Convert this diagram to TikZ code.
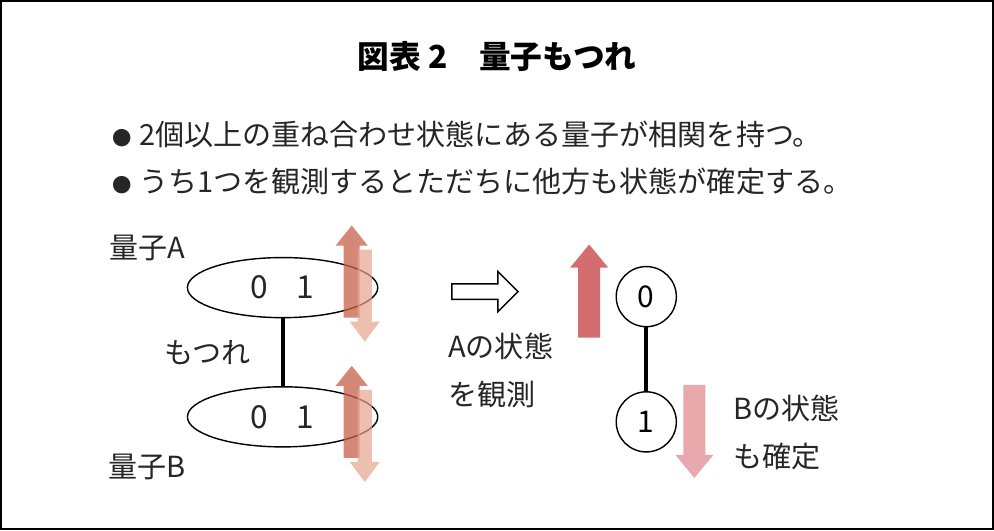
\documentclass[tikz,border=0pt]{standalone}
\usepackage{fontspec}
\setmainfont{Noto Sans CJK JP}
\usetikzlibrary{shapes,shapes.arrows,positioning}
\definecolor{updark}{HTML}{C8604A}
\definecolor{downlight}{HTML}{E6A48C}
\definecolor{uprose}{HTML}{D46E6E}
\definecolor{downrose}{HTML}{E8A8AC}
\newcommand{\unit}{*0.02cm}
\newcommand{\dotmark}{{\fontsize{11}{12}\selectfont ●}\hspace{4pt}}
\tikzset{
  txt/.style={font=\fontsize{16.5}{20}\selectfont, text=black!85, inner sep=0pt},
  state/.style={ellipse, draw, thick, minimum width=190\unit, minimum height=60\unit},
  qubit/.style={circle, draw, thick, minimum size=60\unit, font=\fontsize{17}{20}\selectfont},
}
% block arrow: shaft x1,x2, tail y, head base y, tip y
\newcommand{\blockarrow}[6]{%
  \fill[#6] (#1,#3) -- (#1,#4) -- ({#1-8},#4) -- ({(#1+#2)/2},#5)
    -- ({#2+8},#4) -- (#2,#4) -- (#2,#3) -- cycle;}
\begin{document}
\begin{tikzpicture}[x=0.02cm,y=-0.02cm]
\draw[line width=1.2pt] (2,2) rectangle (992,529);
\node[font=\bfseries\fontsize{18}{20}\selectfont] (title) at (497,57) {図表 2\quad 量子もつれ};
\node[txt, anchor=west] (b1) at (113,135) {\dotmark 2個以上の重ね合わせ状態にある量子が相関を持つ。};
\node[txt, anchor=west] (b2) at (113,182) {\dotmark うち1つを観測するとただちに他方も状態が確定する。};
% left: entangled pair
\node[txt] (la) at (148,248) {量子A};
\node[txt] (lb) at (148,467) {量子B};
\node[state] (ea) at (283,288) {};
\node[state] (eb) at (283,417) {};
\node[txt, font=\fontsize{18}{20}\selectfont] at (283,288) {0\hspace{16pt}1};
\node[txt, font=\fontsize{18}{20}\selectfont] at (283,417) {0\hspace{16pt}1};
\draw[line width=2.2pt] (ea.south) -- (eb.north);
\node[txt] (ent) at (208,353) {もつれ};
\blockarrow{344}{360}{318}{246}{226}{updark, opacity=.75}
\blockarrow{358}{372}{250}{322}{342}{downlight, opacity=.7}
\blockarrow{344}{360}{458}{386}{366}{updark, opacity=.75}
\blockarrow{358}{372}{390}{462}{482}{downlight, opacity=.7}
% observation
\node[single arrow, draw, thick, minimum width=40\unit, single arrow head extend=9\unit,
  single arrow head indent=0pt, minimum height=66\unit, inner sep=5\unit] (obs) at (481,292) {};
\node[txt, align=left, anchor=north west] (obstxt) at (448,333) {Aの状態\\[7pt]を観測};
% right: collapsed states
\node[qubit] (q0) at (646,297) {0};
\node[qubit] (q1) at (646,422) {1};
\draw[line width=2.2pt] (q0) -- (q1);
\blockarrow{578}{600}{338}{268}{245}{uprose}
\blockarrow{683}{705}{385}{455}{478}{downrose}
\node[txt, align=left, anchor=north west] (btxt) at (733,395) {Bの状態\\[7pt]も確定};
\end{tikzpicture}
\end{document}
